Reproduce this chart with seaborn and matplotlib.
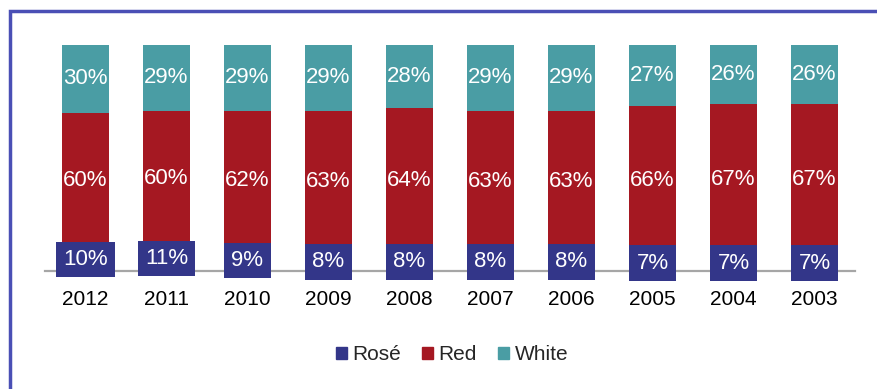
import matplotlib
matplotlib.use("Agg")
import matplotlib.pyplot as plt
import matplotlib.patches as mpatches
import seaborn as sns
import pandas as pd
import numpy as np

years = ["2012", "2011", "2010", "2009", "2008", "2007", "2006", "2005", "2004", "2003"]
rose = [10, 11, 9, 8, 8, 8, 8, 7, 7, 7]
red = [60, 60, 62, 63, 64, 63, 63, 66, 67, 67]
white = [30, 29, 29, 29, 28, 29, 29, 27, 26, 26]
series_names = ["Rosé", "Red", "White"]

c_rose = "#333689"
c_red = "#A51822"
c_white = "#4A9DA4"

sns.set_style("white")
plt.rcParams["font.family"] = ["Liberation Sans", "DejaVu Sans"]

tot = np.array(rose) + np.array(red) + np.array(white)
r = np.array(rose) / tot * 100
d = np.array(red) / tot * 100
w = np.array(white) / tot * 100

df = pd.DataFrame({"year": years, "rose": r, "red_cum": r + d, "all_cum": r + d + w})

fig = plt.figure(figsize=(8.78, 3.89), dpi=100)
ax = fig.add_axes([45 / 878, 1 - 271 / 389, 810 / 878, 226 / 389])

bw = 0.57
sns.barplot(data=df, x="year", y="all_cum", order=years, color=c_white, width=bw,
            saturation=1, ax=ax, linewidth=0)
sns.barplot(data=df, x="year", y="red_cum", order=years, color=c_red, width=bw,
            saturation=1, ax=ax, linewidth=0)
sns.barplot(data=df, x="year", y="rose", order=years, color=c_rose, width=bw,
            saturation=1, ax=ax, linewidth=0)

fs = 16
for i in range(len(years)):
    ax.text(i, r[i] + d[i] + w[i] / 2, f"{white[i]}%", ha="center", va="center",
            color="white", fontsize=fs)
    ax.text(i, r[i] + d[i] / 2, f"{red[i]}%", ha="center", va="center",
            color="white", fontsize=fs)
    ax.text(i, r[i] / 2, f"{rose[i]}%", ha="center", va="center",
            color="white", fontsize=fs, zorder=5,
            bbox=dict(boxstyle="square,pad=0.32", fc=c_rose, ec="none"))

ax.set_xlim(-0.5, len(years) - 0.5)
ax.set_ylim(0, 100)
ax.set_xlabel("")
ax.set_ylabel("")
ax.set_yticks([])
ax.tick_params(axis="x", length=0, labelsize=15, pad=14, colors="black")
for s in ["top", "left", "right"]:
    ax.spines[s].set_visible(False)
ax.spines["bottom"].set_color("#A6A6A6")
ax.spines["bottom"].set_linewidth(1.6)
ax.spines["bottom"].set_zorder(1)

handles = [mpatches.Patch(color=c, label=n) for c, n in zip([c_rose, c_red, c_white], series_names)]
fig.legend(handles=handles, loc="center", bbox_to_anchor=(452 / 878, 1 - 355 / 389),
           ncol=3, frameon=False, fontsize=15, handlelength=0.55, handleheight=0.55,
           handletextpad=0.25, columnspacing=1.0)

border = mpatches.Rectangle((10 / 878, -0.2), 1.2, 1.2 - 11 / 389, transform=fig.transFigure,
                            fill=False, ec="#4A4FB5", lw=2.5, zorder=0)
fig.patches.append(border)

fig.savefig("out.png", dpi=100)
